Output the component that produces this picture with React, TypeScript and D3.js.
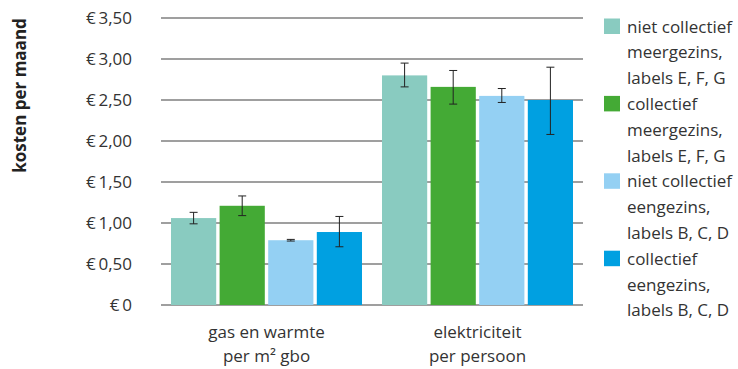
import React from "react";
import * as d3 from "d3";

const categories = [["gas en warmte", "per m² gbo"], ["elektriciteit", "per persoon"]];
const seriesNames = [
  ["niet collectief", "meergezins,", "labels E, F, G"],
  ["collectief", "meergezins,", "labels E, F, G"],
  ["niet collectief", "eengezins,", "labels B, C, D"],
  ["collectief", "eengezins,", "labels B, C, D"],
];
const seriesColors = ["#89CBC0", "#44AA35", "#94D0F3", "#00A0E1"];
// values per series: [gas, elektriciteit]
const values = [
  [1.06, 2.80],
  [1.21, 2.66],
  [0.79, 2.55],
  [0.89, 2.50],
];
const errLow = [
  [0.99, 2.66],
  [1.09, 2.45],
  [0.78, 2.47],
  [0.71, 2.08],
];
const errHigh = [
  [1.13, 2.95],
  [1.33, 2.86],
  [0.80, 2.64],
  [1.08, 2.90],
];
const yTicks = [0, 0.5, 1, 1.5, 2, 2.5, 3, 3.5];
const yTitle = "kosten per maand";

const W = 738, H = 369;
const left = 161, right = 583, top = 18, bottom = 305;
const font = "'Open Sans', 'Noto Sans', sans-serif";

export default function App() {
  const y = d3.scaleLinear().domain([0, 3.5]).range([bottom, top]);
  const x0 = d3.scaleBand<number>().domain([0, 1]).range([left, right]).padding(0);
  const x1 = d3.scaleBand<number>().domain([0, 1, 2, 3]).range([10, x0.bandwidth() - 10]).paddingInner(0.07).paddingOuter(0);
  const fmt = (v: number) => (v === 0 ? "€\u20090" : "€\u2009" + v.toFixed(2).replace(".", ","));
  const lh = 25.8;
  return (
    <svg width={W} height={H} style={{ position: "absolute", left: 0, top: 0, background: "#fff" }}>
      {yTicks.map((t) => (
        <g key={t}>
          <line x1={left} x2={right} y1={y(t)} y2={y(t)} stroke="#7f7f7f" strokeWidth={1.3} />
          <text x={132} y={y(t)} dy="0.36em" textAnchor="end" fontFamily={font} fontSize={17} fill="#333">
            {fmt(t)}
          </text>
        </g>
      ))}
      <text transform={`translate(26,${(top + 173) / 2}) rotate(-90)`} textAnchor="middle" fontFamily={font} fontSize={17} fontWeight="bold" fill="#222">
        {yTitle}
      </text>
      {categories.map((c, ci) => (
        <g key={ci}>
          {values.map((s, si) => {
            const bx = x0(ci)! + x1(si)!;
            const bw = x1.bandwidth();
            const cx = bx + bw / 2;
            return (
              <g key={si}>
                <rect x={bx} y={y(s[ci])} width={bw} height={y(0) - y(s[ci])} fill={seriesColors[si]} />
                <line x1={cx} x2={cx} y1={y(errLow[si][ci])} y2={y(errHigh[si][ci])} stroke="#222" strokeWidth={1} />
                <line x1={cx - 4} x2={cx + 4} y1={y(errLow[si][ci])} y2={y(errLow[si][ci])} stroke="#222" strokeWidth={1} />
                <line x1={cx - 4} x2={cx + 4} y1={y(errHigh[si][ci])} y2={y(errHigh[si][ci])} stroke="#222" strokeWidth={1} />
              </g>
            );
          })}
          {c.map((line, li) => (
            <text key={li} x={x0(ci)! + x0.bandwidth() / 2} y={338 + li * 23.5} textAnchor="middle" fontFamily={font} fontSize={17} fill="#333">
              {line}
            </text>
          ))}
        </g>
      ))}
      {seriesNames.map((lines, si) => (
        <g key={si}>
          <rect x={604} y={18.5 + si * 3 * lh} width={16} height={15.5} fill={seriesColors[si]} />
          {lines.map((l, li) => (
            <text key={li} x={627} y={32.5 + (si * 3 + li) * lh} fontFamily={font} fontSize={17} fill="#333">
              {l}
            </text>
          ))}
        </g>
      ))}
    </svg>
  );
}
